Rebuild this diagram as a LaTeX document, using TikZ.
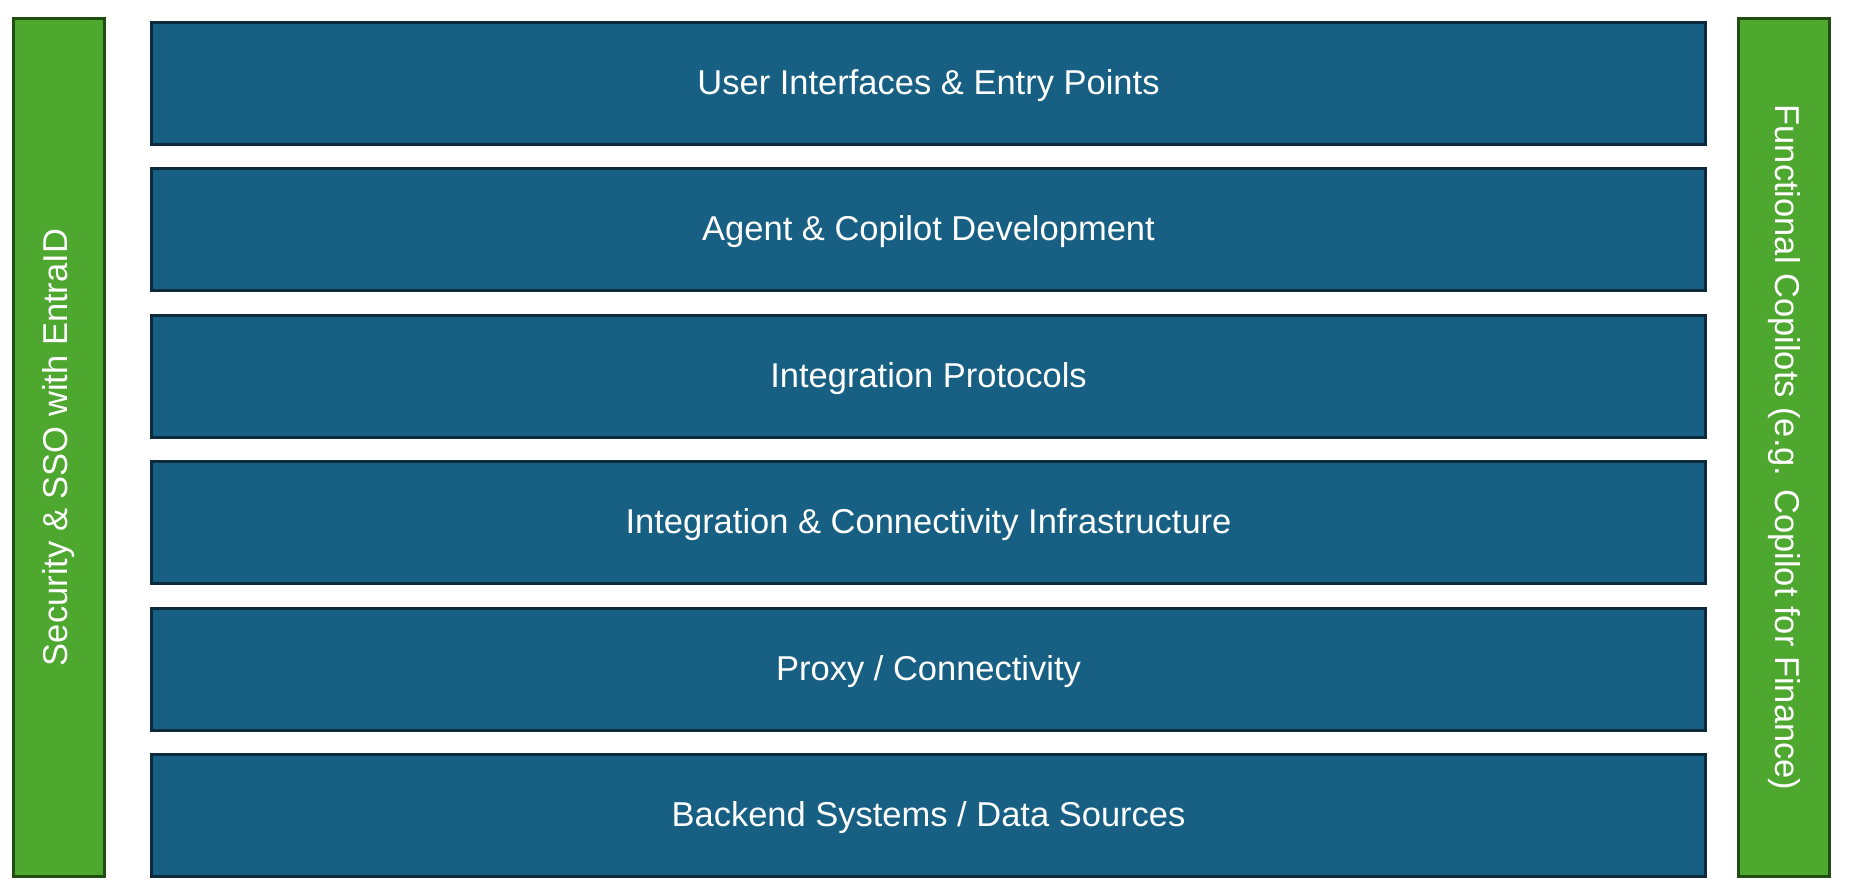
\documentclass[tikz,border=0pt]{standalone}
\usepackage{fontspec}
\setmainfont{Liberation Sans}
\definecolor{layerfill}{HTML}{176083}
\definecolor{layerline}{HTML}{0C2A3C}
\definecolor{sidefill}{HTML}{4EA72E}
\definecolor{sideline}{HTML}{1F4E10}
\begin{document}
\begin{tikzpicture}[x=1pt,y=-1pt,
  labelfont/.style={font=\fontsize{34.5}{40}\selectfont},
  layer/.style={draw=layerline,fill=layerfill,line width=3pt,
    minimum width=1554pt,minimum height=122pt,inner sep=0pt},
  layertext/.style={text=white,labelfont,yshift=-2pt},
  side/.style={draw=sideline,fill=sidefill,line width=3pt,
    minimum width=91pt,minimum height=858pt,inner sep=0pt}]
\useasboundingbox (0,0) rectangle (1852,893);
% stacked layers
\node[layer] (l1) at (928.5,83.5)  {};
\node[layer] (l2) at (928.5,229.9) {};
\node[layer] (l3) at (928.5,376.3) {};
\node[layer] (l4) at (928.5,522.7) {};
\node[layer] (l5) at (928.5,669.1) {};
\node[layer] (l6) at (928.5,815.5) {};
\node[layertext] (t1) at (l1.center) {User Interfaces \& Entry Points};
\node[layertext] (t2) at (l2.center) {Agent \& Copilot Development};
\node[layertext] (t3) at (l3.center) {Integration Protocols};
\node[layertext] (t4) at (l4.center) {Integration \& Connectivity Infrastructure};
\node[layertext] (t5) at (l5.center) {Proxy / Connectivity};
\node[layertext] (t6) at (l6.center) {Backend Systems / Data Sources};
% vertical side bars
\node[side] (sec) at (59,447.5) {};
\node[rotate=90,text=white,labelfont] (sect) at (sec.center) {Security \& SSO with EntraID};
\node[side] (fun) at (1784,447.5) {};
\node[rotate=-90,text=white,labelfont] (funt) at (fun.center) {Functional Copilots (e.g. Copilot for Finance)};
\end{tikzpicture}
\end{document}
